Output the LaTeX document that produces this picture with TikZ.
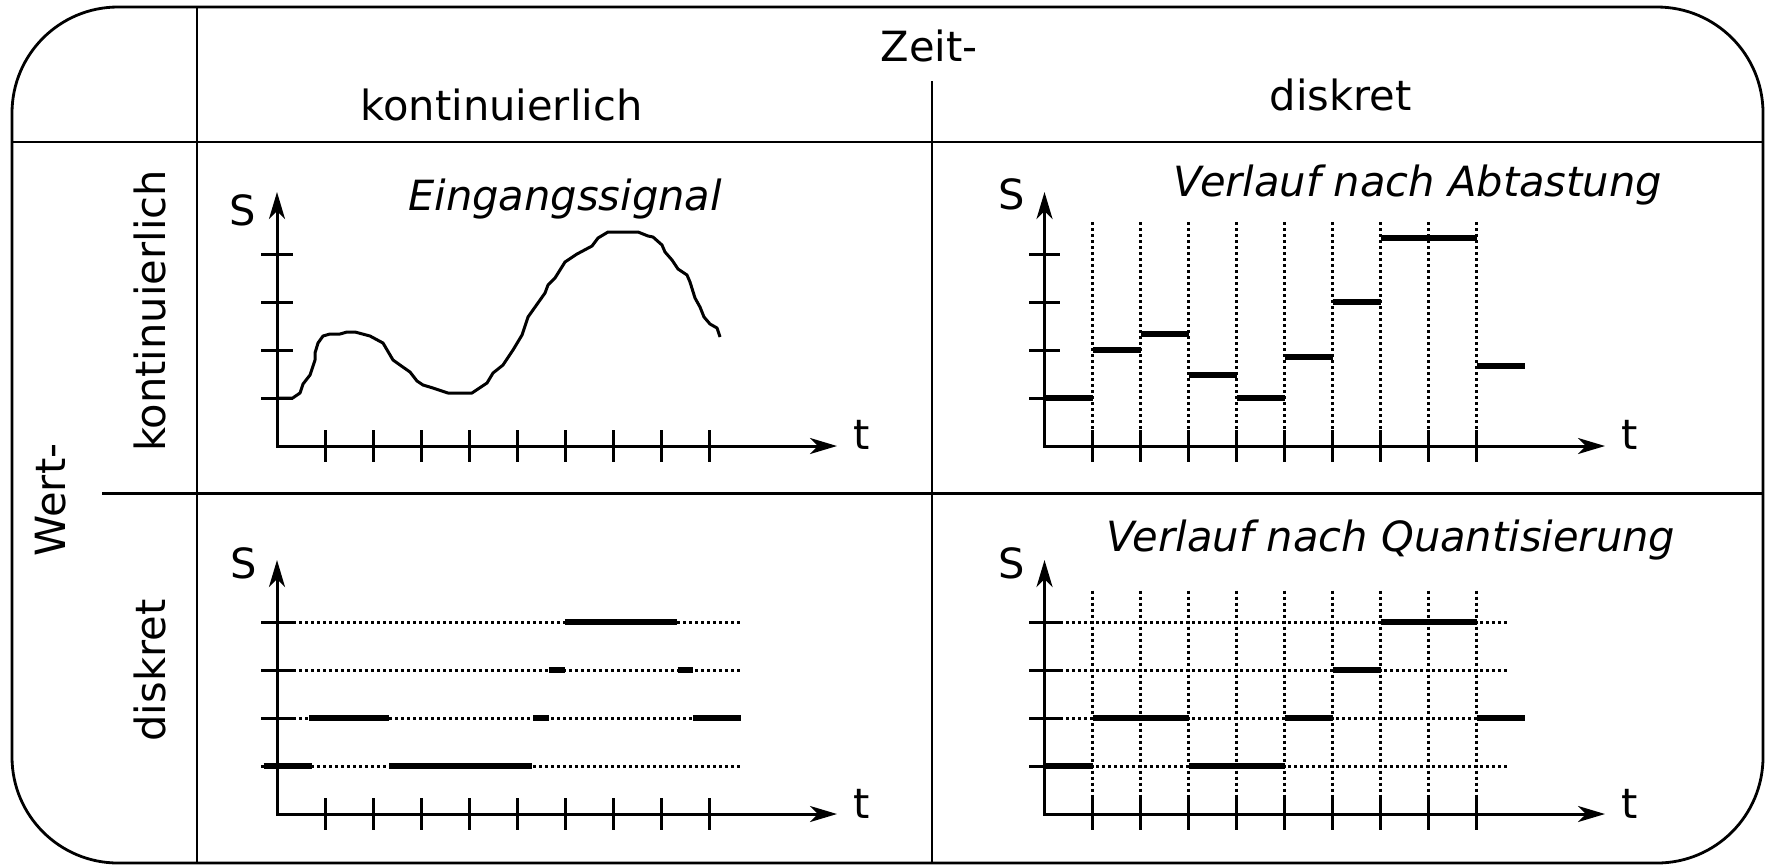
\documentclass[tikz,border=0pt]{standalone}
\usepackage{fontspec}
\setmainfont{DejaVu Sans}
\usetikzlibrary{arrows.meta}
\begin{document}
\begin{tikzpicture}[x=0.5pt,y=-0.5pt,
  frame/.style={line width=1.4pt},
  axisln/.style={line width=1.5pt,{Stealth[length=13.5pt,width=8pt,inset=4pt]}-{Stealth[length=13.5pt,width=8pt,inset=4pt]}},
  tickln/.style={line width=1.5pt},
  gridln/.style={line width=1.5pt,dash pattern=on 1.5pt off 1.5pt},
  holdln/.style={line width=3.2pt},
  sigln/.style={line width=1.5pt,line join=round},
  lbl/.style={font=\fontsize{20.8}{25}\selectfont,inner sep=0pt,anchor=base},
  ttl/.style={lbl,font=\fontsize{20.8}{25}\selectfont\itshape}]
\useasboundingbox (0,0) rectangle (1770,864);
% frame and table lines
\draw[frame,rounded corners=53pt] (12,7) rectangle (1763,863);
\draw[frame] (197,7) -- (197,863);
\draw[frame] (12,142) -- (1763,142);
\draw[frame] (102,493.5) -- (1763,493.5);
\draw[frame] (932,81) -- (932,863);
% header texts
\node[lbl] (zeit) at (929,61) {Zeit-};
\node[lbl] (hkont) at (501.5,120) {kontinuierlich};
\node[lbl] (hdisk) at (1340.5,110.7) {diskret};
\node[lbl,rotate=90] (vkont) at (165,311) {kontinuierlich};
\node[lbl,rotate=90] (vdisk) at (165,670.6) {diskret};
\node[lbl,rotate=90] (wert) at (65,500) {Wert-};
% titles
\node[ttl] (t1) at (565,210.7) {Eingangssignal};
\node[ttl] (t2) at (1418,196.7) {Verlauf nach Abtastung};
\node[ttl] (t3) at (1391,551.5) {Verlauf nach Quantisierung};
% axis labels
\node[lbl] (s1) at (243,225.7) {S};
\node[lbl] (s2) at (1012,209) {S};
\node[lbl] (s3) at (243.5,578) {S};
\node[lbl] (s4) at (1012,578) {S};
\node[lbl] (ta) at (862,449) {t};
\node[lbl] (tb) at (1629.7,449) {t};
\node[lbl] (tc) at (862,818) {t};
\node[lbl] (td) at (1629.7,818) {t};

% ---------- top-left panel ----------
\foreach \k in {1,...,4} \draw[tickln] (261,{446-48*\k}) -- (293,{446-48*\k});
\foreach \k in {1,...,9} \draw[tickln] ({277+48*\k},430) -- ({277+48*\k},462);
\draw[axisln] (277,192) -- (277,446) -- (837,446);
\draw[sigln] (277,398) -- (292.7,398) -- (300,393) -- (303,384) -- (310,375) -- (315,360) -- (315,353) -- (318,343) -- (323,336) -- (330,334) -- (340,334) -- (347,332) -- (355,332) -- (370,336) -- (383,343) -- (393,360) -- (400,365) -- (410,372) -- (417,381) -- (423,385) -- (433,388) -- (448,393) -- (472,393) -- (487,383) -- (493,373) -- (503,365) -- (513,350) -- (522,335) -- (528,317) -- (545,293) -- (548,285) -- (555,278) -- (565,262) -- (577,254) -- (592,246) -- (598,238) -- (608,232) -- (638,232) -- (648,236) -- (653,237) -- (662,245) -- (665,252) -- (672,260) -- (678,269) -- (687,275) -- (690,282) -- (695,298) -- (700,307) -- (704,317) -- (710,324) -- (717,328) -- (720,337);

% ---------- top-right panel ----------
\foreach \k in {1,...,9} \draw[gridln] ({1044.5+48*\k},222) -- ({1044.5+48*\k},430);
\foreach \k in {1,...,4} \draw[tickln] (1029,{446-48*\k}) -- (1060,{446-48*\k});
\foreach \k in {1,...,9} \draw[tickln] ({1044.5+48*\k},430) -- ({1044.5+48*\k},462);
\draw[axisln] (1044.5,192) -- (1044.5,446) -- (1605,446);
\draw[holdln] (1044.5,398) -- (1092.5,398);
\draw[holdln] (1092.5,350) -- (1140.5,350);
\draw[holdln] (1140.5,334) -- (1188.5,334);
\draw[holdln] (1188.5,375) -- (1236.5,375);
\draw[holdln] (1236.5,398) -- (1284.5,398);
\draw[holdln] (1284.5,356.7) -- (1332.5,356.7);
\draw[holdln] (1332.5,301.7) -- (1380.5,301.7);
\draw[holdln] (1380.5,237.7) -- (1476.5,237.7);
\draw[holdln] (1476.5,365.7) -- (1524.5,365.7);

% ---------- bottom-left panel ----------
\foreach \k in {1,...,4} \draw[gridln] (293,{814-48*\k}) -- (741,{814-48*\k});
\foreach \k in {1,...,4} \draw[tickln] (261,{814-48*\k}) -- (293,{814-48*\k});
\foreach \k in {1,...,9} \draw[tickln] ({277+48*\k},798) -- ({277+48*\k},830);
\draw[axisln] (277,560) -- (277,814) -- (837,814);
\draw[holdln] (565,622) -- (677,622);
\draw[holdln] (549,670) -- (565,670);
\draw[holdln] (677.5,670) -- (693,670);
\draw[holdln] (309,718) -- (388.6,718);
\draw[holdln] (533,718) -- (549,718);
\draw[holdln] (693,718) -- (741,718);
\draw[holdln] (263.6,766) -- (311.8,766);
\draw[holdln] (389,766) -- (532,766);

% ---------- bottom-right panel ----------
\foreach \k in {1,...,9} \draw[gridln] ({1044.5+48*\k},590.7) -- ({1044.5+48*\k},798);
\foreach \k in {1,...,4} \draw[gridln] (1060,{814-48*\k}) -- (1509,{814-48*\k});
\foreach \k in {1,...,4} \draw[tickln] (1029,{814-48*\k}) -- (1060,{814-48*\k});
\foreach \k in {1,...,9} \draw[tickln] ({1044.5+48*\k},798) -- ({1044.5+48*\k},830);
\draw[axisln] (1044.5,560) -- (1044.5,814) -- (1605,814);
\draw[holdln] (1046,766) -- (1092.5,766);
\draw[holdln] (1188.5,766) -- (1284.5,766);
\draw[holdln] (1092.5,718) -- (1188.5,718);
\draw[holdln] (1284.5,718) -- (1332.5,718);
\draw[holdln] (1476.5,718) -- (1524.5,718);
\draw[holdln] (1332.5,670) -- (1380.5,670);
\draw[holdln] (1380.5,622) -- (1476.5,622);
\end{tikzpicture}
\end{document}
